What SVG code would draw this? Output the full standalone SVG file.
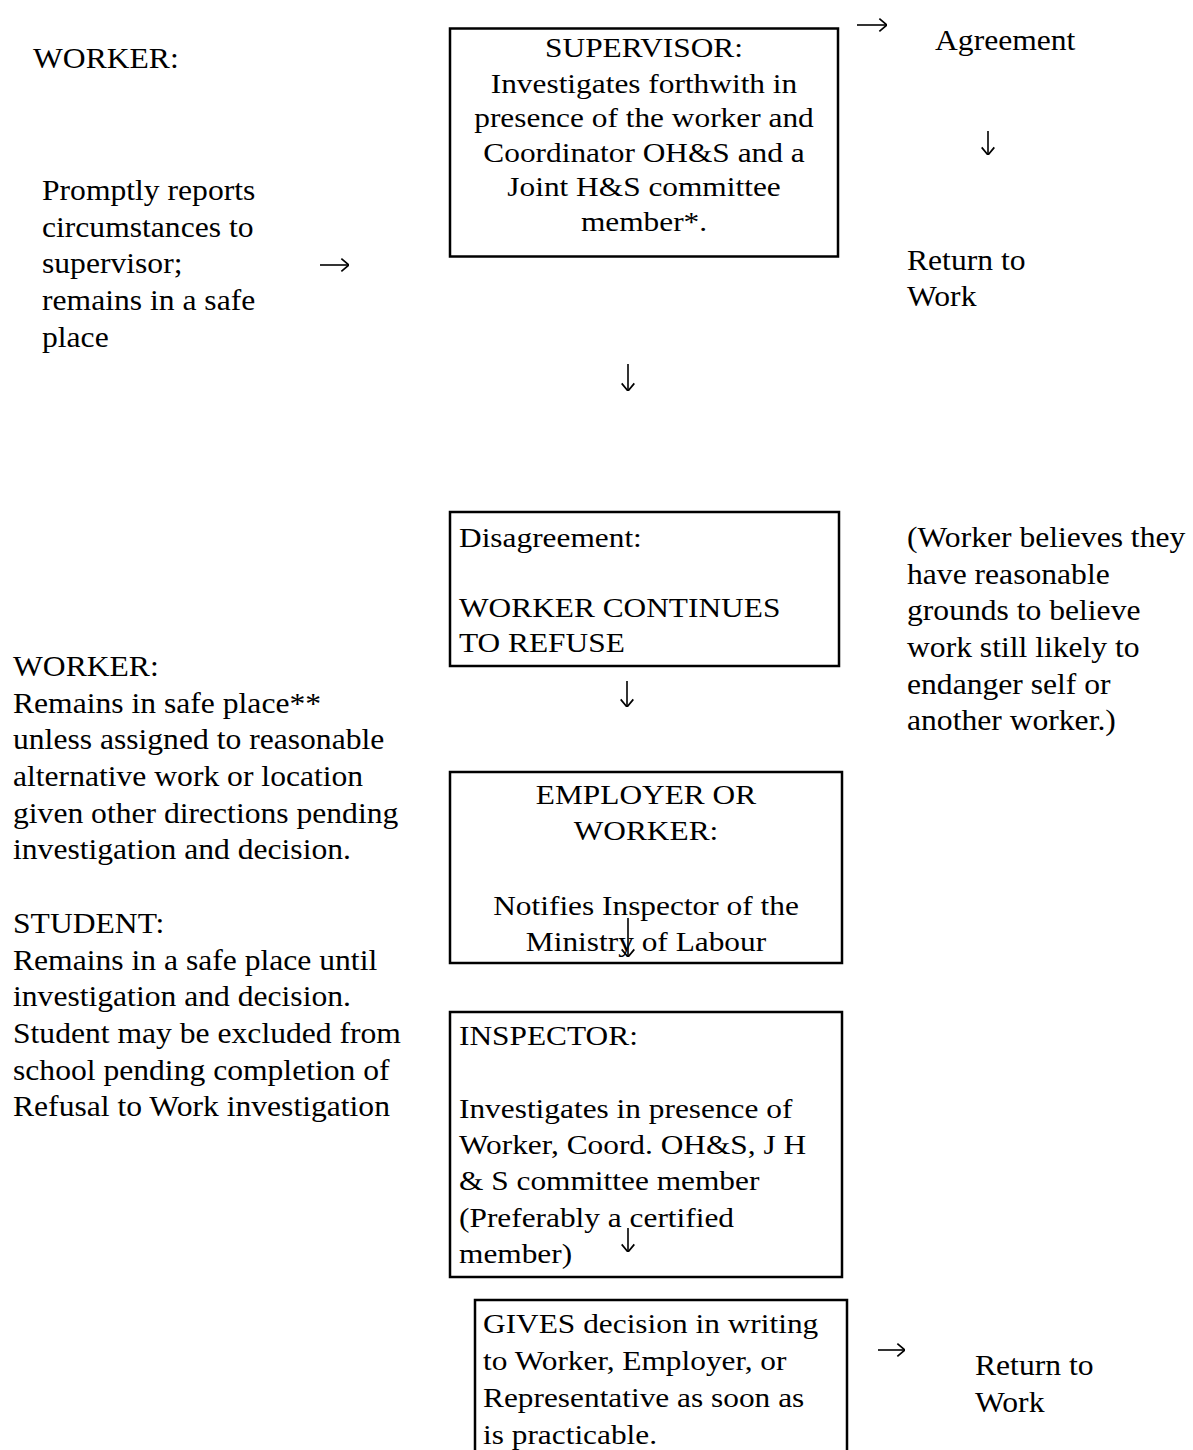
<svg xmlns="http://www.w3.org/2000/svg" width="1193" height="1450" viewBox="0 0 1193 1450">
<style>
text{font-family:"Liberation Serif","Times New Roman",serif;fill:#000}
.b{font-size:28px}
.l{font-size:29px}
.c{text-anchor:middle}
.box{fill:none;stroke:#000;stroke-width:2.5}
.arr{fill:none;stroke:#000;stroke-width:1.6;marker-end:url(#ah)}
</style>
<defs>
<marker id="ah" viewBox="0 0 10 16" refX="9.5" refY="8" markerWidth="9" markerHeight="15" orient="auto" markerUnits="userSpaceOnUse">
<path d="M1 1 L9.5 8 L1 15" fill="none" stroke="#000" stroke-width="1.9" stroke-linejoin="miter"/>
</marker>
</defs>
<rect width="1193" height="1450" fill="#fff"/>
<g id="worker-top">
<text class="l" transform="translate(33,68) scale(1.09,1)">WORKER:</text>
<text class="l" transform="translate(42,200) scale(1.09,1)"><tspan x="0" y="0">Promptly reports</tspan><tspan x="0" dy="36.7">circumstances to</tspan><tspan x="0" dy="36.7">supervisor;</tspan><tspan x="0" dy="36.7">remains in a safe</tspan><tspan x="0" dy="36.7">place</tspan></text>
</g>
<g id="supervisor">
<rect class="box" x="450" y="28.5" width="388" height="228"/>
<text class="b c" transform="translate(644,57) scale(1.12,1)"><tspan x="0" y="0">SUPERVISOR:</tspan><tspan x="0" dy="36">Investigates forthwith in</tspan><tspan x="0" dy="34.5">presence of the worker and</tspan><tspan x="0" dy="34.5">Coordinator OH&amp;S and a</tspan><tspan x="0" dy="34.5">Joint H&amp;S committee</tspan><tspan x="0" dy="34.5">member*.</tspan></text>
</g>
<g id="agreement">
<text class="l" transform="translate(935,50) scale(1.09,1)">Agreement</text>
</g>
<g id="return-top">
<text class="l" transform="translate(907,270) scale(1.09,1)"><tspan x="0" y="0">Return to</tspan><tspan x="0" dy="36">Work</tspan></text>
</g>
<g id="disagreement">
<rect class="box" x="450" y="512" width="389" height="154"/>
<text class="b" transform="translate(459,547) scale(1.12,1)"><tspan x="0" y="0">Disagreement:</tspan><tspan x="0" dy="70">WORKER CONTINUES</tspan><tspan x="0" dy="35">TO REFUSE</tspan></text>
</g>
<g id="note">
<text class="l" transform="translate(907,547) scale(1.09,1)"><tspan x="0" y="0">(Worker believes they</tspan><tspan x="0" dy="36.7">have reasonable</tspan><tspan x="0" dy="36.7">grounds to believe</tspan><tspan x="0" dy="36.7">work still likely to</tspan><tspan x="0" dy="36.7">endanger self or</tspan><tspan x="0" dy="36.7">another worker.)</tspan></text>
</g>
<g id="worker-student">
<text class="l" transform="translate(13,676) scale(1.09,1)"><tspan x="0" y="0">WORKER:</tspan><tspan x="0" dy="36.7">Remains in safe place**</tspan><tspan x="0" dy="36.7">unless assigned to reasonable</tspan><tspan x="0" dy="36.7">alternative work or location</tspan><tspan x="0" dy="36.7">given other directions pending</tspan><tspan x="0" dy="36.7">investigation and decision.</tspan><tspan x="0" dy="73.4">STUDENT:</tspan><tspan x="0" dy="36.7">Remains in a safe place until</tspan><tspan x="0" dy="36.7">investigation and decision.</tspan><tspan x="0" dy="36.7">Student may be excluded from</tspan><tspan x="0" dy="36.7">school pending completion of</tspan><tspan x="0" dy="36.7">Refusal to Work investigation</tspan></text>
</g>
<g id="employer">
<rect class="box" x="450" y="772" width="392" height="191"/>
<text class="b c" transform="translate(646,804) scale(1.12,1)"><tspan x="0" y="0">EMPLOYER OR</tspan><tspan x="0" dy="36">WORKER:</tspan><tspan x="0" dy="75">Notifies Inspector of the</tspan><tspan x="0" dy="36">Ministry of Labour</tspan></text>
</g>
<g id="inspector">
<rect class="box" x="450" y="1012" width="392" height="265"/>
<text class="b" transform="translate(459,1045) scale(1.12,1)"><tspan x="0" y="0">INSPECTOR:</tspan><tspan x="0" dy="73">Investigates in presence of</tspan><tspan x="0" dy="36">Worker, Coord. OH&amp;S, J H</tspan><tspan x="0" dy="36">&amp; S committee member</tspan><tspan x="0" dy="37">(Preferably a certified</tspan><tspan x="0" dy="36">member)</tspan></text>
</g>
<g id="decision">
<path class="box" d="M475 1462 V1300 H847 V1462"/>
<text class="b" transform="translate(483,1333) scale(1.12,1)"><tspan x="0" y="0">GIVES decision in writing</tspan><tspan x="0" dy="37">to Worker, Employer, or</tspan><tspan x="0" dy="37">Representative as soon as</tspan><tspan x="0" dy="37">is practicable.</tspan></text>
</g>
<g id="return-bottom">
<text class="l" transform="translate(975,1375) scale(1.09,1)"><tspan x="0" y="0">Return to</tspan><tspan x="0" dy="37">Work</tspan></text>
</g>
<g id="connectors">
<path class="arr" d="M320 265 H349"/>
<path class="arr" d="M857 25 H887"/>
<path class="arr" d="M988 131 V155"/>
<path class="arr" d="M628 364 V391"/>
<path class="arr" d="M627 681 V707"/>
<path class="arr" d="M628 918 V957"/>
<path class="arr" d="M628 1228 V1252"/>
<path class="arr" d="M878 1350 H905"/>
</g>
</svg>
